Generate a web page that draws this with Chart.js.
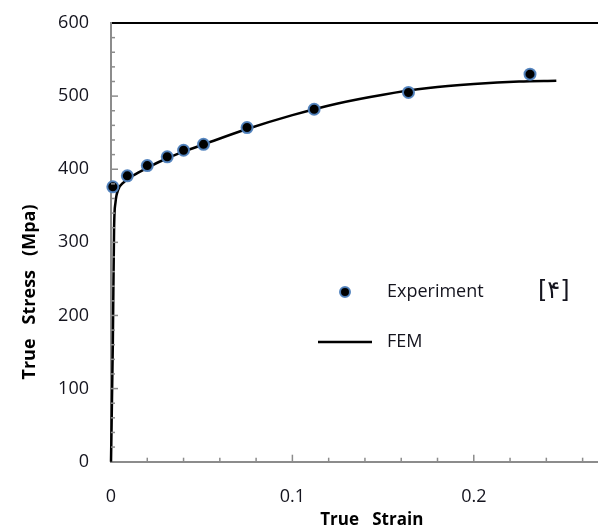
<!DOCTYPE html>
<html>
<head>
<meta charset="utf-8">
<script src="https://cdn.jsdelivr.net/npm/chart.js@4"></script>
<style>
  html, body { margin: 0; padding: 0; background: #fff; overflow: hidden; }
  #wrap { width: 640px; height: 530px; }
</style>
</head>
<body>
<div id="wrap"><canvas id="stressstrain" width="640" height="530"></canvas></div>
<script>
// Experiment points
const strainExp = [0.001, 0.009, 0.020, 0.031, 0.040, 0.051, 0.075, 0.112, 0.164, 0.231];
const stressExp = [376, 391, 405, 417, 426, 434, 457, 482, 505, 530];

// FEM curve
const strainFem = [0, 0.001, 0.0017, 0.0025, 0.004, 0.007, 0.012, 0.02, 0.03, 0.04, 0.05, 0.075, 0.1, 0.125, 0.15, 0.175, 0.2, 0.225, 0.2455];
const stressFem = [0, 160, 320, 355, 372, 382, 391, 402, 414, 424, 433, 455, 474, 490, 502, 511, 516.5, 520, 521];

// axis ticks
const xTickValues = [0, 0.1, 0.2];
const xTickLabels = ["0", "0.1", "0.2"];
const yTickLabels = ["0", "100", "200", "300", "400", "500", "600"];

const colors = {
  axis: "rgba(140, 140, 140, 1)",
  text: "rgba(20, 20, 30, 1)",
  black: "rgba(0, 0, 0, 1)",
  pointRing: "rgba(79, 129, 189, 0.95)",
};

const tickFont = { family: "'Open Sans', sans-serif", size: 18 };

// small inward tick marks, like the original spreadsheet chart
const innerTicks = {
  id: "innerTicks",
  afterDraw: (chart) => {
    const ctx = chart.ctx;
    const area = chart.chartArea;
    const x = chart.scales.x;
    const y = chart.scales.y;
    ctx.save();
    ctx.strokeStyle = colors.axis;
    ctx.lineWidth = 1.5;
    for (let i = 1; i <= 15; i++) {
      const v = i * 0.02;
      if (v > x.max) break;
      const px = x.getPixelForValue(v);
      const len = i % 5 === 0 ? 7 : 4;
      ctx.beginPath();
      ctx.moveTo(px, area.bottom);
      ctx.lineTo(px, area.bottom - len);
      ctx.stroke();
    }
    for (let i = 1; i < 30; i++) {
      const py = y.getPixelForValue(i * 20);
      const len = i % 5 === 0 ? 7 : 4;
      ctx.beginPath();
      ctx.moveTo(area.left, py);
      ctx.lineTo(area.left + len, py);
      ctx.stroke();
    }
    ctx.restore();
  },
};

// y title and the legend placed inside the plot
const annotations = {
  id: "annotations",
  afterDraw: (chart) => {
    const ctx = chart.ctx;
    const area = chart.chartArea;
    ctx.save();
    // y axis title
    ctx.fillStyle = colors.black;
    ctx.font = "bold 18px 'Open Sans', sans-serif";
    ctx.textAlign = "center";
    ctx.textBaseline = "middle";
    ctx.translate(area.left - 81, area.top + 269);
    ctx.rotate(-Math.PI / 2);
    ctx.fillText("True   Stress   (Mpa)", 0, 0);
    ctx.restore();

    ctx.save();
    const lx = area.left + 234;
    const ly1 = area.top + 269;
    const ly2 = area.top + 319;
    // experiment marker
    ctx.beginPath();
    ctx.arc(lx, ly1, 5, 0, Math.PI * 2);
    ctx.fillStyle = colors.black;
    ctx.fill();
    ctx.lineWidth = 2;
    ctx.strokeStyle = colors.pointRing;
    ctx.stroke();
    // FEM line
    ctx.beginPath();
    ctx.moveTo(lx - 27, ly2);
    ctx.lineTo(lx + 27, ly2);
    ctx.lineWidth = 2.5;
    ctx.strokeStyle = colors.black;
    ctx.stroke();
    ctx.fillStyle = colors.text;
    ctx.font = "18px 'Open Sans', sans-serif";
    ctx.textAlign = "left";
    ctx.textBaseline = "middle";
    ctx.fillText("Experiment", lx + 42, ly1);
    ctx.fillText("FEM", lx + 42, ly2);
    ctx.font = "24px 'DejaVu Sans', sans-serif";
    ctx.fillText("[\u06F4]", area.left + 427, ly1);
    ctx.restore();
  },
};

const config = {
  type: "scatter",
  data: {
    datasets: [
      {
        label: "Experiment",
        data: strainExp.map((s, i) => ({ x: s, y: stressExp[i] })),
        backgroundColor: colors.black,
        borderColor: colors.pointRing,
        borderWidth: 2,
        pointRadius: 5.5,
        order: 0,
      },
      {
        label: "FEM",
        type: "line",
        data: strainFem.map((s, i) => ({ x: s, y: stressFem[i] })),
        borderColor: colors.black,
        borderWidth: 2.5,
        pointRadius: 0,
        cubicInterpolationMode: "monotone",
        fill: false,
        order: 1,
      },
    ],
  },
  options: {
    responsive: false,
    animation: false,
    clip: false,
    layout: { padding: { left: 0, right: 2.6, top: 23, bottom: 0 } },
    plugins: {
      legend: { display: false },
      tooltip: { enabled: false },
    },
    scales: {
      x: {
        type: "linear",
        min: 0,
        max: 0.2875,
        afterFit: (s) => {
          s.height = 68.3;
          s.paddingLeft = 0;
          s.paddingRight = 0;
        },
        afterBuildTicks: (s) => { s.ticks = xTickValues.map((v) => ({ value: v })); },
        border: { display: true, color: colors.axis, width: 2 },
        grid: { display: false, drawTicks: false },
        ticks: {
          color: colors.text,
          font: tickFont,
          padding: 24,
          maxRotation: 0,
          callback: (v) => xTickLabels[xTickValues.indexOf(v)] ?? "",
        },
        title: {
          display: true,
          text: "True   Strain",
          color: colors.black,
          font: { family: "'Open Sans', sans-serif", size: 17, weight: "bold" },
          padding: { top: 0, bottom: 0 },
        },
      },
      y: {
        type: "linear",
        min: 0,
        max: 600,
        afterFit: (s) => {
          s.width = 111;
          s.paddingTop = 0;
          s.paddingBottom = 0;
        },
        border: { display: true, color: colors.axis, width: 2 },
        grid: {
          drawTicks: false,
          lineWidth: 2,
          color: (c) => (c.tick && c.tick.value === 600 ? colors.black : "rgba(0,0,0,0)"),
        },
        ticks: {
          stepSize: 100,
          color: colors.text,
          font: tickFont,
          padding: 22,
          callback: (v) => yTickLabels[v / 100] ?? "",
        },
      },
    },
  },
  plugins: [innerTicks, annotations],
};

new Chart(document.getElementById("stressstrain"), config);
</script>
</body>
</html>
